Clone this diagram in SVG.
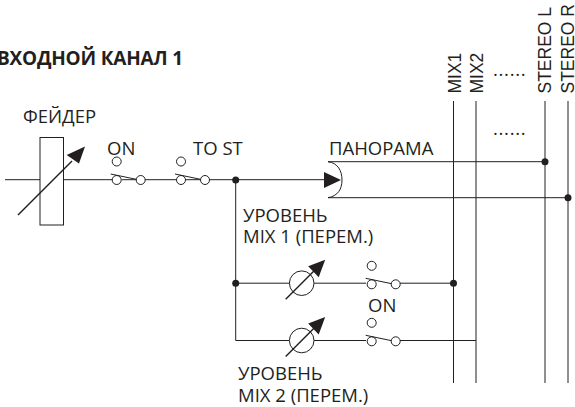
<svg xmlns="http://www.w3.org/2000/svg" width="575" height="407" viewBox="0 0 575 407">
<style>
.l{fill:none;stroke:#231f20;stroke-width:1}
.a{fill:none;stroke:#231f20;stroke-width:1.4}
.c{fill:#fff;stroke:#231f20;stroke-width:1}
.d{fill:#231f20}
text{font-family:"Open Sans","Noto Sans",sans-serif;font-size:18.500px;fill:#231f20}
.v{font-family:"Liberation Sans",Arial,sans-serif;font-size:17.500px}
</style>
<defs>
<g id="sw"><circle class="c" cx="0" cy="0" r="4.500"/><circle class="c" cx="24" cy="0" r="4.500"/><circle class="c" cx="0" cy="-18.500" r="4.500"/><path class="l" d="M-6-6L19.500-.7"/></g>
<g id="kn"><circle class="c" cx="0" cy="0" r="12.300"/><path class="a" d="M-16 16L13-13"/><path class="d" d="M23.500-23.500L6.500-17L17-6Z"/></g>
</defs>
<g id="connectors">
<path class="l" d="M5 179.700H112M122 179.700H176M186 179.700H324"/>
<path class="l" d="M235.700 180V340.500H289M235.700 283.200H289M314 283.200H366M314 340.500H366M400 283.200H453.500M400 340.500H476"/>
<path class="l" d="M328 161.700C338 163 342 171 342 180C342 189 338 196 328 197.700"/>
<path class="l" d="M328 161.700H545M328 197.700H568"/>
<path class="l" d="M453.500 101V383M476 101V383M545 101V383M568 101V383"/>
<path class="d" d="M341 180L324 172V188Z"/>
<circle class="d" cx="235.700" cy="180" r="3.500"/><circle class="d" cx="545" cy="161.700" r="3.500"/><circle class="d" cx="568" cy="197.700" r="3.500"/><circle class="d" cx="235.700" cy="283.200" r="3.500"/><circle class="d" cx="453.500" cy="283.200" r="3.500"/>
</g>
<g id="title"><text x="-3" y="64.500" font-weight="700" style="font-size:19px;letter-spacing:-.2px">ВХОДНОЙ КАНАЛ 1</text></g>
<g id="fader"><rect class="c" x="40" y="137.500" width="23.500" height="87.500"/><path class="a" d="M18 215L72 161"/><path class="d" d="M85 146.500L66.700 155L79 163.500Z"/><text x="23" y="123">ФЕЙДЕР</text></g>
<g id="sw-on"><use href="#sw" x="116.700" y="180"/><text x="107" y="155">ON</text></g>
<g id="sw-tost"><use href="#sw" x="181" y="180"/><text x="193" y="155">TO ST</text></g>
<g id="pan"><text x="329" y="155">ПАНОРАМА</text></g>
<g id="mix1"><use href="#kn" x="301.700" y="283.200"/><use href="#sw" x="371.700" y="284.300"/><text x="243" y="222">УРОВЕНЬ</text><text x="243" y="243">MIX 1 (ПЕРЕМ.)</text></g>
<g id="mix2"><use href="#kn" x="301.700" y="340.500"/><use href="#sw" x="371.700" y="341.300"/><text x="368" y="312">ON</text><text x="238" y="380">УРОВЕНЬ</text><text x="238" y="402">MIX 2 (ПЕРЕМ.)</text></g>
<g id="buses">
<text class="v" transform="translate(460.500 93.500) rotate(-90)">MIX1</text>
<text class="v" transform="translate(483 93.500) rotate(-90)">MIX2</text>
<text class="v" transform="translate(551 93.500) rotate(-90)">STEREO L</text>
<text class="v" transform="translate(574 93.500) rotate(-90)">STEREO R</text>
<text x="493" y="76" letter-spacing=".7">......</text>
<text x="493" y="135" letter-spacing=".7">......</text>
</g>
</svg>
